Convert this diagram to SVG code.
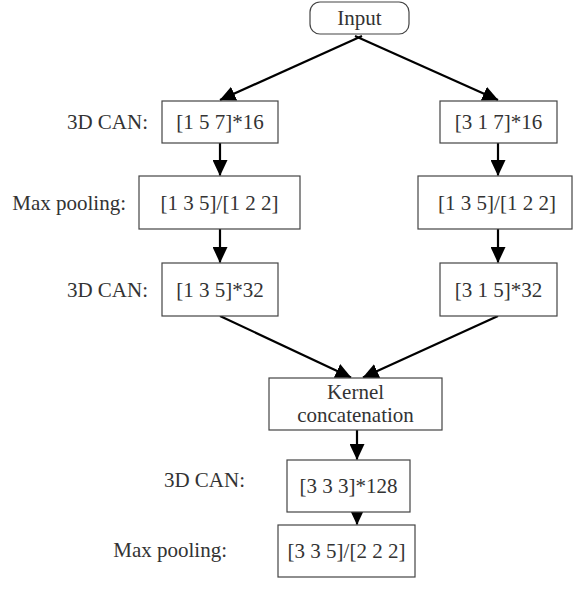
<svg xmlns="http://www.w3.org/2000/svg" width="574" height="593" viewBox="0 0 574 593">
<style>
.box{fill:#fff;stroke:#444;stroke-width:1.2}
.t{font-family:"Liberation Serif","Times New Roman",serif;font-size:21px;fill:#333;text-anchor:middle}
.l{font-family:"Liberation Serif","Times New Roman",serif;font-size:21px;fill:#333;text-anchor:end}
.c{stroke:#000;stroke-width:2.2;fill:none;marker-end:url(#ah)}
</style>
<defs>
<marker id="ah" markerWidth="16" markerHeight="15" refX="15.5" refY="7.5" orient="auto" markerUnits="userSpaceOnUse" viewBox="0 0 16 15">
<path d="M0,0 L16,7.5 L0,15 Z" fill="#000"/>
</marker>
</defs>
<g id="connectors">
<path class="c" d="M362,36 L220,100"/>
<path class="c" d="M355,36 L498,100"/>
<path class="c" d="M220,143 L220,175.5"/>
<path class="c" d="M498,143 L498,175.5"/>
<path class="c" d="M220,229 L220,262.5"/>
<path class="c" d="M498,229 L498,262.5"/>
<path class="c" d="M220,316 L351,377.5"/>
<path class="c" d="M498,316 L363,377.5"/>
<path class="c" d="M357,430 L357,459.5"/>
<path class="c" d="M357,512 L357,524.5"/>
</g>
<g id="input"><rect class="box" x="310" y="2" width="99" height="32" rx="10"/><text class="t" x="359.5" y="25">Input</text></g>
<g id="lab1"><text class="l" x="148" y="129">3D CAN:</text></g>
<g id="l1"><rect class="box" x="162" y="101" width="116" height="42"/><text class="t" x="220" y="129">[1 5 7]*16</text></g>
<g id="r1"><rect class="box" x="440" y="101" width="117" height="42"/><text class="t" x="498.5" y="129">[3 1 7]*16</text></g>
<g id="lab2"><text class="l" x="126" y="210">Max pooling:</text></g>
<g id="l2"><rect class="box" x="139" y="176" width="161" height="53"/><text class="t" x="219.5" y="210">[1 3 5]/[1 2 2]</text></g>
<g id="r2"><rect class="box" x="418" y="176" width="154" height="53"/><text class="t" x="497" y="210">[1 3 5]/[1 2 2]</text></g>
<g id="lab3"><text class="l" x="148" y="297">3D CAN:</text></g>
<g id="l3"><rect class="box" x="162" y="263" width="116" height="53"/><text class="t" x="220" y="297">[1 3 5]*32</text></g>
<g id="r3"><rect class="box" x="440" y="263" width="117" height="53"/><text class="t" x="498.5" y="297">[3 1 5]*32</text></g>
<g id="kernel"><rect class="box" x="269" y="378" width="173" height="52"/><text class="t" x="355.5" y="399">Kernel</text><text class="t" x="355.5" y="422">concatenation</text></g>
<g id="lab4"><text class="l" x="245" y="487">3D CAN:</text></g>
<g id="c4"><rect class="box" x="287" y="460" width="123" height="52"/><text class="t" x="348.5" y="493">[3 3 3]*128</text></g>
<g id="lab5"><text class="l" x="227" y="557">Max pooling:</text></g>
<g id="c5"><rect class="box" x="278" y="525" width="137" height="52"/><text class="t" x="346.5" y="558">[3 3 5]/[2 2 2]</text></g>
</svg>
